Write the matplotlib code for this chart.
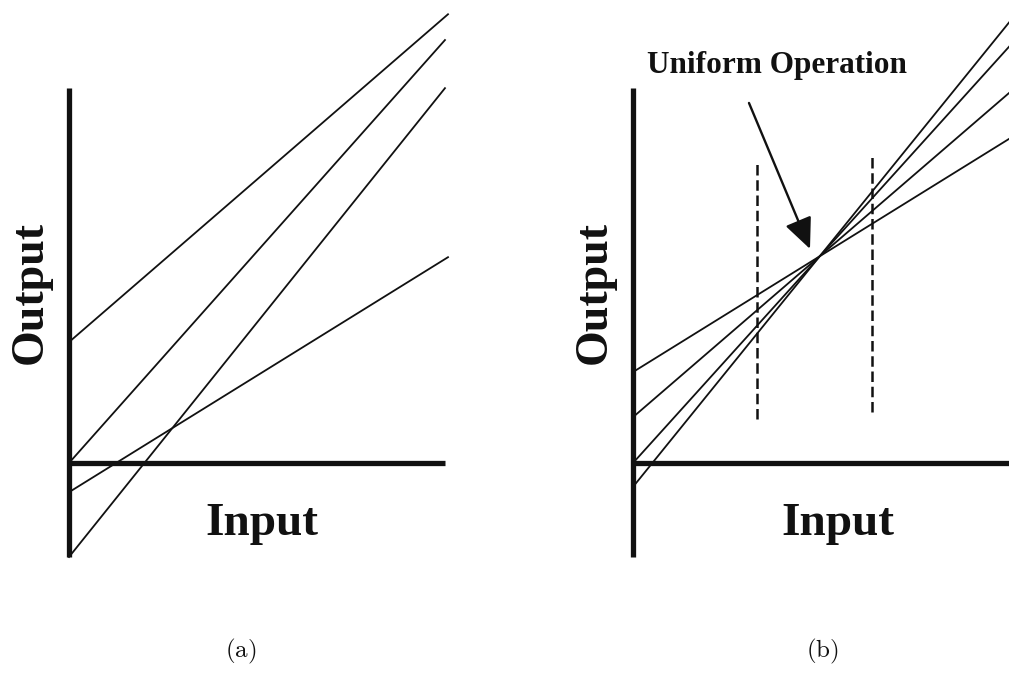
import matplotlib
matplotlib.use("Agg")
import matplotlib.pyplot as plt
from matplotlib.patches import ArrowStyle
import numpy as np

plt.rcParams['mathtext.fontset'] = 'cm'

# panel (a): four unrelated gain/offset lines
slopes_a = [0.865, 1.125, 1.247, 0.62]
intercepts_a = [3.19, 0.0, -2.48, -0.77]
x_end_a = [10.0, 9.92, 9.92, 10.0]

# panel (b): four lines that all cross in one point
slopes_b = [0.62, 0.862, 1.107, 1.235]
intercepts_b = [2.40, 1.21, 0.0, -0.63]
x_end_b = 10.6

# dashed bounds of the uniform region in (b)
dash_x = [3.27, 6.31]
dash_top = [7.92, 8.10]
dash_bottom = [1.16, 1.35]

# axis extents (same for both panels)
y_axis_lo, y_axis_hi = -2.48, 9.89
x_axis_hi_a = 9.92
x_axis_hi_b = 10.6

W, H = 1009, 689
S = 37.9  # pixels per data unit
INK = "#111111"
SERIF = ['Liberation Serif', 'DejaVu Serif']

fig = plt.figure(figsize=(W / 100, H / 100), dpi=100)


def make_axes(ox, oy):
    # axes covering the whole figure, origin at pixel (ox, oy) from top-left
    ax = fig.add_axes([0, 0, 1, 1])
    ax.set_xlim(-ox / S, (W - ox) / S)
    ax.set_ylim(-(H - oy) / S, oy / S)
    ax.axis('off')
    ax.patch.set_alpha(0)
    return ax


def draw_frame(ax, x_hi):
    ax.plot([0, 0], [y_axis_lo, y_axis_hi], color=INK, lw=3.8, solid_capstyle='butt')
    ax.plot([0, x_hi], [0, 0], color=INK, lw=3.8, solid_capstyle='butt')
    ax.text(-1.02, 4.49, "Output", rotation=90, ha='center', va='center',
            fontsize=33, fontweight='bold', family=SERIF, color=INK)


ax_a = make_axes(69, 463)
ax_b = make_axes(633, 463)

# panel (a)
draw_frame(ax_a, x_axis_hi_a)
for m, c, xe in zip(slopes_a, intercepts_a, x_end_a):
    xs = np.array([0, xe])
    ax_a.plot(xs, c + m * xs, color=INK, lw=1.3)
ax_a.text(5.09, -1.90, "Input", ha='center', va='baseline',
          fontsize=34, fontweight='bold', family=SERIF, color=INK)
ax_a.text(4.52, -4.98, r"$\mathrm{(a)}$", ha='center', va='center',
          fontsize=18, color=INK)

# panel (b)
draw_frame(ax_b, x_axis_hi_b)
for m, c in zip(slopes_b, intercepts_b):
    xs = np.array([0, x_end_b])
    ax_b.plot(xs, c + m * xs, color=INK, lw=1.3)
for x, y0, y1 in zip(dash_x, dash_bottom, dash_top):
    ax_b.plot([x, x], [y0, y1], color=INK, lw=1.8, linestyle=(0, (4.2, 1.9)))
ax_b.text(5.41, -1.90, "Input", ha='center', va='baseline',
          fontsize=34, fontweight='bold', family=SERIF, color=INK)
ax_b.text(0.37, 10.29, "Uniform Operation", ha='left', va='baseline',
          fontsize=22.5, fontweight='bold', family=SERIF, color=INK)
ax_b.annotate("", xy=(4.67, 5.65), xytext=(3.06, 9.50),
              arrowprops=dict(arrowstyle=ArrowStyle('-|>', head_length=1.0, head_width=0.45),
                              mutation_scale=19, color=INK, lw=1.7,
                              shrinkA=0, shrinkB=0))
ax_b.text(4.99, -4.98, r"$\mathrm{(b)}$", ha='center', va='center',
          fontsize=18, color=INK)

fig.savefig("out.png", dpi=100, facecolor='white')
